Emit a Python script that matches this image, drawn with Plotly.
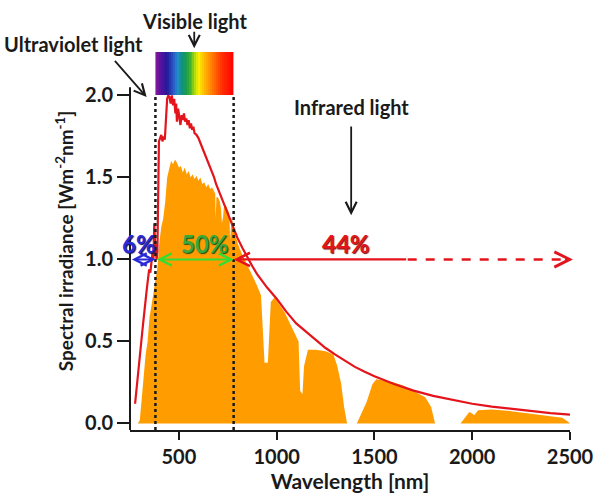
import plotly.graph_objects as go

# Extraterrestrial (top of atmosphere) solar spectrum, W m^-2 nm^-1
space_wl = [276, 282, 288, 294, 300, 306, 312, 318, 324, 330, 336, 342, 348, 354, 360,
            366, 370, 374, 378, 382, 386, 390, 394, 398, 404, 410, 416, 422, 428, 432,
            436, 440, 446, 452, 458, 464, 470, 476, 482, 486, 490, 496, 502, 508, 514,
            520, 526, 532, 538, 544, 550, 556, 562, 568, 574, 580, 590, 600, 610, 620,
            630, 640, 650, 660, 670, 680, 690, 700, 720, 740, 760, 780, 800, 825, 850,
            875, 900, 950, 1000, 1050, 1100, 1150, 1200, 1250, 1300, 1350, 1400, 1450,
            1500, 1600, 1700, 1800, 1900, 2000, 2100, 2200, 2300, 2400, 2500]
space_irr = [0.12, 0.20, 0.28, 0.33, 0.42, 0.48, 0.55, 0.62, 0.70, 0.76, 0.82, 0.88, 0.94, 0.92, 0.99,
             1.05, 1.00, 1.22, 1.10, 1.02, 1.00, 1.05, 1.55, 1.72, 1.74, 1.76, 1.72, 1.75, 1.73, 1.80,
             1.92, 1.98, 2.00, 1.99, 1.95, 2.00, 1.94, 1.98, 1.89, 1.95, 1.84, 1.92, 1.87, 1.82, 1.88,
             1.85, 1.89, 1.84, 1.86, 1.82, 1.85, 1.80, 1.83, 1.79, 1.81, 1.77, 1.76, 1.74, 1.71, 1.68,
             1.66, 1.62, 1.59, 1.56, 1.53, 1.50, 1.46, 1.43, 1.37, 1.31, 1.25, 1.19, 1.13, 1.07, 1.01,
             0.96, 0.91, 0.83, 0.76, 0.68, 0.61, 0.56, 0.51, 0.46, 0.42, 0.38, 0.345, 0.315,
             0.288, 0.24, 0.20, 0.168, 0.142, 0.12, 0.102, 0.088, 0.075, 0.063, 0.054]

# Spectrum reaching the ground, with atmospheric absorption bands
ground_wl = [290, 300, 310, 320, 330, 340, 350, 360, 370, 380, 390, 400, 410, 420, 430,
             440, 450, 460, 470, 480, 490, 500, 510, 520, 530, 540, 550, 560, 570, 580,
             590, 600, 610, 620, 630, 640, 650, 660, 670, 680, 686, 688, 692, 700, 710,
             716, 720, 726, 730, 740, 750, 758, 762, 766, 770, 780, 790, 800, 820, 840,
             860, 880, 900, 920, 930, 938, 955, 962, 970, 990, 1000, 1040, 1070, 1100, 1112,
             1120, 1132, 1140, 1160, 1200, 1250, 1290, 1310, 1330, 1345, 1360, 1410, 1430, 1460, 1490,
             1510, 1550, 1600, 1650, 1700, 1760, 1790, 1810, 1940, 1970, 1985, 2000, 2010, 2030, 2100,
             2200, 2300, 2400, 2460, 2490, 2500]
ground_irr = [0.0, 0.02, 0.15, 0.30, 0.42, 0.50, 0.65, 0.72, 0.80, 0.86, 0.95, 1.10, 1.20, 1.25, 1.35,
              1.50, 1.55, 1.60, 1.58, 1.61, 1.59, 1.56, 1.57, 1.53, 1.56, 1.52, 1.54, 1.50, 1.52, 1.49,
              1.51, 1.48, 1.50, 1.46, 1.47, 1.44, 1.46, 1.43, 1.44, 1.42, 1.40, 1.25, 1.38, 1.38, 1.35,
              1.30, 1.22, 1.26, 1.32, 1.33, 1.30, 1.28, 1.12, 1.20, 1.26, 1.20, 1.14, 1.10, 1.04, 0.99,
              0.95, 0.90, 0.84, 0.78, 0.50, 0.37, 0.37, 0.55, 0.74, 0.77, 0.75, 0.68, 0.60, 0.53, 0.50,
              0.20, 0.18, 0.35, 0.45, 0.45, 0.44, 0.42, 0.35, 0.24, 0.10, 0.0, 0.0, 0.05, 0.13, 0.24,
              0.27, 0.26, 0.25, 0.23, 0.20, 0.16, 0.10, 0.0, 0.0, 0.05, 0.07, 0.06, 0.05, 0.08, 0.085,
              0.075, 0.06, 0.045, 0.035, 0.01, 0.0]

# Band limits and energy shares
uv_limit = 380
ir_limit = 780
shares = ["6%", "50%", "44%"]

x_ticks = [500, 1000, 1500, 2000, 2500]
y_ticks = [0.0, 0.5, 1.0, 1.5, 2.0]
y_tick_text = ["0.0", "0.5", "1.0", "1.5", "2.0"]

# Visible colour strip
strip_edges = list(range(380, 781, 10))
strip_centres = [e + 5 for e in strip_edges[:-1]]
spectrum_scale = [
    [0.00, "#8a1a9a"], [0.06, "#5a14a0"], [0.15, "#201a9a"], [0.22, "#2850c0"],
    [0.28, "#2090c8"], [0.33, "#109080"], [0.40, "#20a040"], [0.47, "#60c020"],
    [0.52, "#c0e010"], [0.56, "#f8f000"], [0.62, "#ffc000"], [0.72, "#ff8000"],
    [0.85, "#ff3000"], [1.00, "#ff0000"],
]

RED = "#e3141b"
ORANGE = "#ff9d00"
BLUE = "#2a2ad8"
GREEN_ARROW = "#33dd33"
GREEN_TEXT = "#3aa83a"
INK = "#1a1a1a"

fig = go.Figure()

fig.add_trace(go.Heatmap(
    x=strip_edges, y=[2.0, 2.265], z=[strip_centres],
    colorscale=spectrum_scale, zmin=380, zmax=780,
    showscale=False, hoverinfo="skip",
))

fig.add_trace(go.Scatter(
    x=ground_wl, y=ground_irr, mode="lines", fill="tozeroy",
    line=dict(width=0, color=ORANGE), fillcolor=ORANGE, hoverinfo="skip",
))

fig.add_trace(go.Scatter(
    x=space_wl, y=space_irr, mode="lines",
    line=dict(width=2.2, color=RED), hoverinfo="skip",
))

shapes = [
    # y axis line (stops below the colour strip)
    dict(type="line", xref="paper", yref="y", x0=0, x1=0, y0=-0.04, y1=2.05,
         line=dict(color=INK, width=2)),
    dict(type="line", xref="x", yref="y", x0=uv_limit, x1=uv_limit, y0=-0.04, y1=2.0,
         line=dict(color=INK, width=2.5, dash="dot")),
    dict(type="line", xref="x", yref="y", x0=ir_limit, x1=ir_limit, y0=-0.04, y1=2.0,
         line=dict(color=INK, width=2.5, dash="dot")),
    # dashed continuation of the infrared arrow
    dict(type="line", xref="x", yref="y", x0=1670, x1=2500, y0=1.0, y1=1.0,
         line=dict(color=RED, width=2.5, dash="dash")),
]

def arrow(x, y, ax, ay, color, width=2, head=5, side="end", size=1.2):
    return dict(x=x, y=y, ax=ax, ay=ay, xref="x", yref="y", axref="x", ayref="y",
                text="", showarrow=True, arrowhead=head, startarrowhead=head,
                arrowside=side, arrowsize=size, startarrowsize=size,
                arrowwidth=width, arrowcolor=color)

annotations = [
    arrow(uv_limit, 1.0, 252, 1.0, BLUE, side="end+start"),
    arrow(ir_limit, 1.0, uv_limit, 1.0, GREEN_ARROW, side="end+start"),
    arrow(ir_limit, 1.0, 1670, 1.0, RED, width=2.2),
    arrow(2515, 1.0, 2470, 1.0, RED, width=2.5),
    arrow(1381, 1.27, 1381, 1.82, INK, width=1.8),
    arrow(335, 1.99, 166, 2.22, INK, width=1.8),
    # short arrow under "Visible light", above the colour strip
    dict(x=0.146, y=1.01, xref="paper", yref="paper", ax=0, ay=-18, text="",
         showarrow=True, arrowhead=5, arrowsize=1.2, arrowwidth=1.8, arrowcolor=INK),
]

label_font = dict(family="Lato", size=20, color=INK, weight="bold")
annotations += [
    dict(x=1381, y=1.93, xref="x", yref="y", text="Infrared light", showarrow=False, font=label_font),
    dict(x=0.146, y=1.082, xref="paper", yref="paper", xanchor="center", yanchor="middle",
         text="Visible light", showarrow=False, font=label_font),
    dict(x=-0.128, y=1.02, xref="paper", yref="paper", xanchor="center", yanchor="middle",
         text="Ultraviolet light", showarrow=False, font=label_font),
]

pct_font = dict(family="Lato", size=24, weight="bold")
annotations += [
    dict(x=298, y=1.10, xref="x", yref="y", text=shares[0], showarrow=False,
         font=dict(pct_font, color=BLUE, shadow="1px 1px 1px #101060")),
    dict(x=634, y=1.10, xref="x", yref="y", text=shares[1], showarrow=False,
         font=dict(pct_font, color=GREEN_TEXT, shadow="1px 1px 1px #105010")),
    dict(x=1357, y=1.10, xref="x", yref="y", text=shares[2], showarrow=False,
         font=dict(pct_font, color=RED, shadow="1px 1px 1px #701010")),
]

fig.update_layout(
    width=606, height=500,
    margin=dict(l=130, r=24, t=52, b=70),
    paper_bgcolor="white", plot_bgcolor="white",
    showlegend=False,
    font=dict(family="Lato", size=20, color=INK, weight="bold"),
    shapes=shapes, annotations=annotations,
    xaxis=dict(
        range=[250, 2500], tickvals=x_ticks, ticks="outside", ticklen=8, tickwidth=2,
        tickcolor=INK, showline=True, linecolor=INK, linewidth=2,
        showgrid=False, zeroline=False,
        title=dict(text="Wavelength [nm]", font=dict(size=21), standoff=4),
    ),
    yaxis=dict(
        range=[-0.04, 2.265], tickvals=y_ticks, ticktext=y_tick_text,
        ticks="outside", ticklen=12, tickwidth=2, tickcolor=INK,
        showline=False, showgrid=False, zeroline=False,
        title=dict(text="Spectral irradiance [Wm<sup>-2</sup>nm<sup>-1</sup>]",
                   font=dict(size=19), standoff=6),
    ),
)

fig.write_html("out.html")
